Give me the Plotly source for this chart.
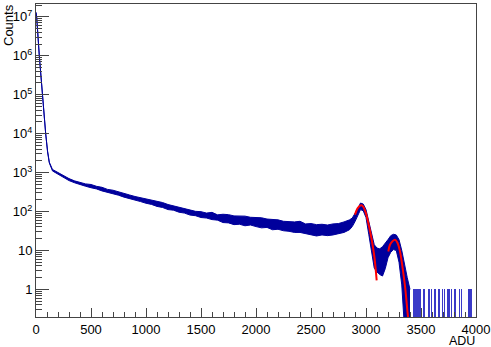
import plotly.graph_objects as go

# ADU spectrum: upper / lower edge of the noisy histogram band
adu = [0, 6, 30, 57, 88, 105, 121, 150, 200, 250, 300, 350, 400, 450, 500, 550,
       600, 650, 700, 750, 800, 850, 900, 950, 1000, 1050, 1100, 1150, 1200, 1250,
       1300, 1350, 1400, 1450, 1500, 1550, 1600, 1650, 1700, 1750, 1800, 1850, 1900,
       1950, 2000, 2050, 2100, 2150, 2200, 2250, 2300, 2350, 2400, 2450, 2500, 2550,
       2600, 2650, 2700, 2750, 2800, 2850, 2875, 2900, 2925, 2950, 2975, 3000, 3025,
       3050, 3075, 3100, 3125, 3150, 3175, 3200, 3225, 3250, 3275, 3300, 3325, 3350,
       3375, 3400]
counts_hi = [1.3e7, 1.0e7, 1.0e6, 1.0e5, 1.0e4, 3600, 1850, 1200, 1000, 830, 700, 612, 556,
             512, 494, 444, 418, 370, 352, 316, 295, 266, 243, 226, 212, 190, 178, 170,
             151, 139, 130, 117, 111, 101, 99, 91, 95, 82, 85, 83, 77, 76, 76, 71,
             70, 69, 64, 62, 61, 56, 55, 54, 56, 48, 49, 46, 47, 45, 48, 49, 54, 61,
             68, 88, 118, 165, 155, 112, 56, 26, 14, 11.5, 11, 12.5, 15, 19, 24, 26,
             25, 19, 10, 4, 2, 1]
counts_lo = [1.3e7, 1.0e7, 1.0e6, 1.0e5, 1.0e4, 3400, 1770, 1100, 900, 742, 622, 548, 486,
             446, 408, 380, 338, 314, 284, 262, 234, 217, 198, 180, 163, 152, 135, 127,
             112, 108, 96, 91, 81, 78, 70, 68, 62, 60, 52, 51, 46, 47, 43, 45, 41, 38,
             39, 34, 35, 32, 31, 29, 29, 27, 25, 23.5, 25, 24, 25, 27, 29, 34, 41, 55,
             76, 112, 104, 70, 26, 9, 3.5, 2.8, 2.4, 2.2, 3.4, 6.5, 9, 10.5, 10, 5, 1.3,
             0.1, 0.1, 0.1]

# sparse single-count bins in the tail
tail_adu = [3436, 3445, 3455, 3464, 3475, 3485, 3497, 3527, 3575, 3597, 3627, 3666,
            3697, 3715, 3743, 3757, 3779, 3809, 3848, 3870, 3930, 3945, 3961]
tail_counts = [1] * len(tail_adu)

# Gaussian fits (red)
fit1_adu = [2900, 2921, 2939, 2958, 2976, 2997, 3021, 3052, 3076, 3097]
fit1_val = [83, 117, 136, 144, 131, 95, 50.6, 18.8, 6.9, 1.7]
fit2_adu = [3203, 3218, 3239, 3264, 3285, 3309, 3333, 3355, 3376, 3386]
fit2_val = [9.4, 14, 17, 18.8, 16, 9.4, 3.5, 1.17, 0.29, 0.15]

y_tickvals = [1, 10, 1e2, 1e3, 1e4, 1e5, 1e6, 1e7]
y_ticktext = ["1", "10", "10<sup>2</sup>", "10<sup>3</sup>", "10<sup>4</sup>",
              "10<sup>5</sup>", "10<sup>6</sup>", "10<sup>7</sup>"]

BLUE = "#00009c"

fig = go.Figure()

fig.add_trace(go.Scatter(x=adu, y=counts_hi, mode="lines",
                         line=dict(color=BLUE, width=1), showlegend=False))
fig.add_trace(go.Scatter(x=adu, y=counts_lo, mode="lines", fill="tonexty",
                         fillcolor=BLUE, line=dict(color=BLUE, width=1), showlegend=False))

fig.add_trace(go.Bar(x=tail_adu, y=tail_counts, width=5,
                     marker=dict(color="#3a3ac8", line_width=0), showlegend=False))

fig.add_trace(go.Scatter(x=fit1_adu, y=fit1_val, mode="lines", line_shape="spline",
                         line=dict(color="#ff0000", width=2), showlegend=False))
fig.add_trace(go.Scatter(x=fit2_adu, y=fit2_val, mode="lines", line_shape="spline",
                         line=dict(color="#ff0000", width=2), showlegend=False))

axis_font = dict(family="Liberation Sans, Arial, sans-serif", size=13, color="black")

fig.update_xaxes(
    range=[0, 4000], tickvals=[0, 500, 1000, 1500, 2000, 2500, 3000, 3500, 4000],
    ticks="inside", ticklen=9, tickcolor="#444", tickfont=axis_font,
    minor=dict(ticks="inside", ticklen=5, dtick=100, tickcolor="#444", showgrid=False),
    showline=True, linecolor="#444", linewidth=1, mirror=True,
    showgrid=False, zeroline=False, automargin=False,
)
fig.update_yaxes(
    type="log", range=[-0.71, 7.33], tickvals=y_tickvals, ticktext=y_ticktext,
    ticks="inside", ticklen=13, tickcolor="#444", tickfont=axis_font,
    minor=dict(ticks="inside", ticklen=6, dtick="D1", tickcolor="#444", showgrid=False),
    showline=True, linecolor="#444", linewidth=1, mirror=True,
    showgrid=False, zeroline=False, automargin=False,
)

fig.add_annotation(text="Counts", xref="paper", yref="paper", x=0, y=1,
                   xanchor="center", yanchor="top", textangle=-90, xshift=-28, yshift=2,
                   showarrow=False, font=axis_font)
fig.add_annotation(text="ADU", xref="paper", yref="paper", x=1, y=0,
                   xanchor="right", yanchor="top", yshift=-16, borderpad=0,
                   showarrow=False, font=dict(axis_font, size=12.5))

fig.update_layout(
    width=491, height=347,
    margin=dict(l=36, r=15, t=4, b=30),
    paper_bgcolor="white", plot_bgcolor="white",
    bargap=0,
)

# the page body has a default 8px margin; drop it so the figure sits at the corner
fig.write_html("out.html", config={"displayModeBar": False},
               post_script="document.body.style.margin='0';")
